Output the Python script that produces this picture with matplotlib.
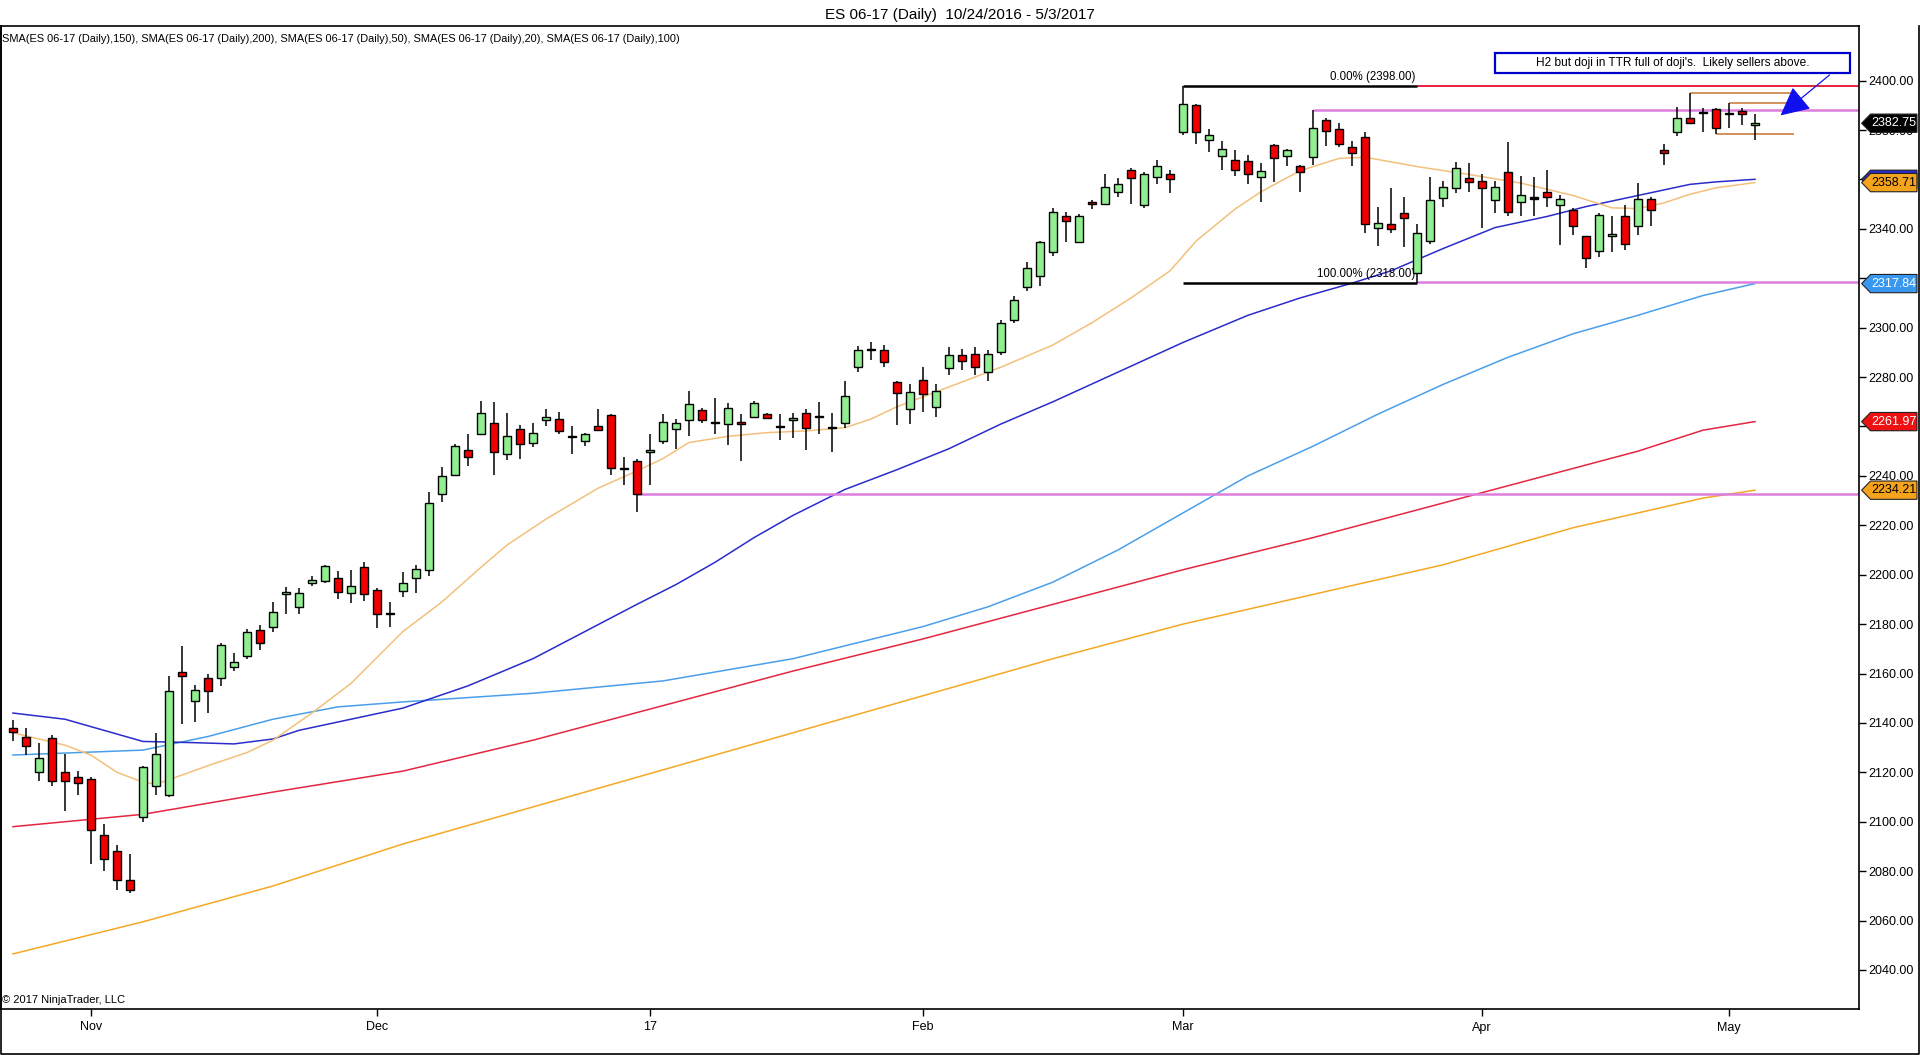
import numpy as np
import matplotlib.pyplot as plt
from matplotlib.patches import Polygon, Rectangle
from matplotlib.lines import Line2D

plt.rcParams['font.family'] = ['Liberation Sans', 'DejaVu Sans']

# daily bars 10/24/2016 .. 5/3/2017 (bar index 0..134)
opens = [2138, 2134.5, 2120, 2134, 2120, 2118, 2117.5, 2094.5, 2088, 2076.5,
         2102, 2114.5, 2111, 2160.5, 2149, 2158, 2158, 2162.5, 2167, 2177.5,
         2179, 2192, 2187, 2196.5, 2197.5, 2198.5, 2192.5, 2203, 2194, 2184,
         2193.5, 2198.5, 2202, 2232.5, 2240.5, 2250.5, 2257, 2261.5, 2249, 2259,
         2253.5, 2262.5, 2263, 2256, 2254, 2260, 2264.5, 2243, 2246, 2249.5,
         2254, 2259, 2262.5, 2266.5, 2261.7, 2261, 2262, 2264, 2265, 2260,
         2262.5, 2265.5, 2264, 2259.5, 2261.5, 2284, 2291, 2291, 2278, 2267,
         2279, 2268, 2283.5, 2289, 2289.5, 2282, 2290, 2303, 2316.5, 2321,
         2330.5, 2345, 2334.5, 2351, 2350, 2355, 2364, 2349.5, 2361, 2362,
         2379, 2390, 2376, 2369.5, 2368, 2367.5, 2361, 2374, 2369.5, 2365.5,
         2369, 2384, 2380.5, 2373, 2377, 2340.5, 2342, 2346.5, 2322, 2335,
         2352.5, 2356.5, 2360.5, 2359.5, 2351.5, 2363, 2351, 2352.5, 2355, 2349.5,
         2347.5, 2337, 2331, 2337, 2345, 2341, 2352, 2372, 2379, 2385,
         2387, 2388.5, 2386.5, 2387.5, 2382]
highs = [2141, 2138, 2132, 2135, 2127.5, 2120.5, 2118, 2099, 2090.5, 2087,
         2122.5, 2136, 2159, 2171, 2155.5, 2160, 2172.5, 2168.5, 2178, 2179.5,
         2189, 2195, 2194.5, 2199.5, 2204, 2201.5, 2202, 2205, 2194.5, 2189,
         2201, 2204, 2233.5, 2243.5, 2253, 2257, 2270.5, 2270, 2265.5, 2260.5,
         2261.5, 2267, 2266, 2260, 2257.5, 2267, 2265, 2247.5, 2247, 2257,
         2265, 2263, 2274.5, 2267.5, 2271.5, 2269.5, 2265, 2270.5, 2265.5, 2265,
         2265.5, 2267, 2270, 2265.5, 2278.5, 2292.5, 2294, 2293, 2278.5, 2277,
         2284, 2277, 2292, 2291.5, 2292, 2291, 2303, 2313, 2326.5, 2335,
         2348.5, 2347, 2346, 2351.5, 2362, 2360.5, 2364.5, 2363, 2368, 2364,
         2398, 2390.5, 2380.5, 2375.5, 2372, 2370, 2366.5, 2374.5, 2372.5, 2366,
         2388, 2385, 2383, 2375.5, 2379, 2349, 2356.5, 2353, 2342, 2361,
         2359.5, 2367, 2366.5, 2362, 2359.5, 2375, 2361.5, 2361, 2364, 2353.5,
         2348.5, 2337, 2346.5, 2345, 2349.5, 2358.5, 2353, 2374.5, 2389.5, 2395,
         2389, 2389, 2391, 2389, 2386.5]
lows = [2132.5, 2127, 2116.5, 2114.5, 2104.5, 2111, 2083, 2080, 2072.5, 2071,
        2100, 2111, 2110, 2139.5, 2140.5, 2144, 2155, 2161, 2166, 2169.5,
        2177, 2184, 2184, 2195.5, 2196.5, 2190, 2188.5, 2189.5, 2178.5, 2179,
        2191, 2192.5, 2199.5, 2229.5, 2240, 2244, 2256.5, 2240.5, 2246.5, 2247,
        2251.5, 2260, 2257, 2249, 2252, 2258, 2240.5, 2236.5, 2225.5, 2236.5,
        2253, 2251, 2256, 2261.5, 2257, 2252.5, 2246, 2263.5, 2263, 2254.5,
        2255.5, 2250.5, 2257, 2249.5, 2259.5, 2282, 2287, 2284, 2260.5, 2261,
        2266, 2264, 2281, 2283, 2281, 2278.5, 2289, 2302, 2315, 2317,
        2329, 2334.5, 2334.5, 2348, 2349.5, 2353, 2350, 2348.5, 2358, 2354.5,
        2378, 2374.5, 2371, 2364, 2361.5, 2358, 2351, 2359, 2365.5, 2355,
        2366, 2373.5, 2373, 2365.5, 2338.5, 2333, 2338.5, 2332.5, 2318, 2334,
        2349, 2354.5, 2355, 2340.5, 2346.5, 2345, 2345, 2345, 2349, 2333.5,
        2337.5, 2324, 2328.5, 2330.5, 2331.5, 2337.5, 2341, 2366, 2377.5, 2382.5,
        2379, 2378.5, 2381, 2382, 2376]
closes = [2136.5, 2130.5, 2126, 2116.5, 2116.5, 2115.5, 2096.5, 2085, 2076.5, 2072.5,
          2122, 2127.5, 2153, 2159, 2153.5, 2153, 2171.5, 2164.5, 2177, 2172.5,
          2185, 2193, 2192.5, 2198, 2203.5, 2193, 2195.5, 2192, 2184, 2184.5,
          2196.5, 2202.5, 2229, 2240, 2252, 2247.5, 2265.5, 2249.5, 2256, 2253,
          2257.5, 2264, 2258, 2256, 2257, 2258.5, 2243, 2243, 2232.5, 2250.5,
          2262, 2261.5, 2269, 2262.5, 2261.7, 2267.5, 2261, 2269.5, 2263.5, 2260,
          2263.5, 2259.5, 2264, 2259.5, 2272.5, 2291, 2291.5, 2286, 2273.5, 2274,
          2273, 2274.5, 2289, 2286.5, 2284, 2289.5, 2302, 2311, 2324, 2334.5,
          2347, 2343, 2345, 2350, 2357, 2358, 2360.5, 2362, 2365.5, 2360,
          2390.5, 2379, 2378, 2372.5, 2364, 2362, 2363.5, 2368.5, 2372, 2363,
          2381, 2379.5, 2374.5, 2370.5, 2342, 2342.5, 2340, 2344.5, 2338.5, 2351.5,
          2357, 2364.5, 2359, 2356.5, 2357, 2347, 2353.5, 2352.5, 2353, 2352,
          2341, 2328, 2345.5, 2338, 2334, 2352, 2347.5, 2370.5, 2385, 2383,
          2387, 2381, 2387, 2386.5, 2382.75]

# moving averages (bar index, value)
sma20_x = [0, 4, 6, 8, 10, 11, 12, 15, 18, 20, 23, 26, 28, 30, 33, 36, 38, 41, 45, 48, 50,
           52, 55, 58, 61, 64, 66, 68, 72, 76, 80, 83, 86, 89, 91, 94, 96, 99, 102, 104,
           108, 112, 116, 120, 123, 125, 127, 129, 131, 134]
sma20_y = [2136, 2131, 2127, 2120, 2116, 2115.3, 2117, 2122.7, 2128, 2133, 2144, 2156,
           2166.5, 2177, 2189, 2203, 2212, 2222.5, 2235, 2242, 2247, 2253.5, 2256, 2257.5,
           2258.2, 2259.5, 2263, 2268, 2276, 2284, 2293, 2302, 2312, 2323, 2335, 2348,
           2355, 2363.5, 2368.5, 2369, 2365.2, 2362, 2358.5, 2353.5, 2348.5, 2348.2,
           2350.5, 2354, 2356.6, 2358.71]
sma50_x = [0, 4, 7, 10, 14, 17, 20, 22, 26, 30, 35, 40, 44, 48, 51, 54, 57, 60, 64, 68,
           72, 76, 80, 85, 90, 95, 99, 103, 106, 110, 114, 118, 121, 125, 129, 131, 134]
sma50_y = [2144, 2141.5, 2137, 2132.5, 2132, 2131.5, 2133.5, 2137, 2141.5, 2146, 2155,
           2166, 2177, 2188, 2196, 2205, 2215, 2224, 2234.5, 2242.5, 2251, 2261, 2270,
           2282, 2294, 2305, 2312, 2318, 2323, 2332, 2340.5, 2345, 2349, 2353.5, 2358,
           2359, 2360.05]
sma100_x = [0, 10, 15, 20, 25, 30, 40, 50, 60, 70, 75, 80, 85, 90, 95, 100, 105, 110,
            115, 120, 125, 130, 134]
sma100_y = [2127, 2129, 2134.5, 2141.5, 2146.5, 2148.5, 2152, 2157, 2166, 2179, 2187,
            2197, 2210, 2225, 2240, 2252, 2265, 2277, 2288, 2297.5, 2305, 2313, 2317.84]
sma150_x = [0, 10, 20, 30, 40, 50, 60, 70, 80, 90, 100, 110, 115, 120, 125, 130, 134]
sma150_y = [2098, 2103, 2112, 2120.5, 2133, 2147, 2161, 2174, 2188, 2202, 2215, 2229,
            2236, 2243, 2250, 2258.5, 2261.97]
sma200_x = [0, 10, 20, 30, 40, 50, 60, 70, 80, 90, 100, 110, 115, 120, 125, 130, 134]
sma200_y = [2046.5, 2059.5, 2074, 2091, 2106, 2121, 2136, 2151, 2166, 2180, 2192, 2204,
            2211.5, 2219, 2225, 2231, 2234.21]

month_pos = [6, 28, 49, 70, 90, 113, 132]
month_lab = ['Nov', 'Dec', '17', 'Feb', 'Mar', 'Apr', 'May']

fig = plt.figure(figsize=(19.2, 10.55), dpi=100)
ax = fig.add_axes([1 / 1920, 46 / 1055, 1858 / 1920, 983 / 1055])

o = np.array(opens); h = np.array(highs); l = np.array(lows); c = np.array(closes)
idx = np.arange(len(o))

# moving averages
ax.plot(sma200_x, sma200_y, color='#f4a823', lw=1.1, zorder=2)
ax.plot(sma150_x, sma150_y, color='#e42640', lw=1.1, zorder=2)
ax.plot(sma100_x, sma100_y, color='#4a9fea', lw=1.1, zorder=2)
ax.plot(sma50_x, sma50_y, color='#2b2bcc', lw=1.1, zorder=2)
ax.plot(sma20_x, sma20_y, color='#f3c07c', lw=1.1, zorder=2)

# drawn lines
ax.hlines(2232.5, 48, 142, color='#dd7ddd', lw=1.8, zorder=2.5)
ax.hlines(2388, 100, 142, color='#dd7ddd', lw=1.8, zorder=2.5)
ax.hlines(2318.3, 108, 142, color='#dd7ddd', lw=1.8, zorder=2.5)
ax.hlines(2398, 108, 142, color='#e8203a', lw=1.4, zorder=2.5)
ax.hlines([2398, 2318], 90, 108, color='black', lw=1.8, zorder=2.6)
ax.text(107.9, 2399.2, '0.00% (2398.00)', ha='right', va='bottom', fontsize=8.3)
ax.text(107.9, 2319.2, '100.00% (2318.00)', ha='right', va='bottom', fontsize=8.3)
ax.hlines(2394.8, 129, 137, color='#c87430', lw=1.1, zorder=2.5)
ax.hlines(2390.8, 132, 137, color='#c87430', lw=1.1, zorder=2.5)
ax.hlines(2378.3, 131, 137, color='#c87430', lw=1.1, zorder=2.5)

# candles
ax.vlines(idx, l, h, color='black', lw=1.1, zorder=3)
doji = o == c
body_h = np.where(doji, 0.5, np.abs(c - o))
body_b = np.where(doji, o - 0.25, np.minimum(o, c))
cols = np.where(doji, 'black', np.where(c > o, '#90ee90', '#ee0000'))
ax.bar(idx, body_h, bottom=body_b, width=0.62, color=cols, edgecolor='black',
       linewidth=1.0, zorder=4)

# comment box and arrow
ax.add_patch(Rectangle((114.0, 2403.0), 27.3, 8.1, facecolor='white', edgecolor='#0000cc',
                       lw=1.6, zorder=6))
ax.text(127.65, 2407.05, "H2 but doji in TTR full of doji's.  Likely sellers above.",
        ha='center', va='center', fontsize=8.6, zorder=7)
ax.annotate('', xy=(135.8, 2385.2), xytext=(139.9, 2403),
            arrowprops=dict(arrowstyle='-|>,head_length=0.9,head_width=0.45',
                            mutation_scale=20, color='#1010ee', lw=0.9), zorder=6)

ax.set_xlim(-0.92, 142.0)
ax.set_ylim(2024.2, 2422.1)
ax.set_xticks(month_pos)
ax.set_xticklabels(month_lab)
ax.set_yticks(np.arange(2040, 2401, 20))
ax.yaxis.set_major_formatter(plt.FormatStrFormatter('%.2f'))
ax.yaxis.tick_right()
ax.tick_params(axis='both', direction='out', length=5, width=1, labelsize=9, pad=2)
ax.tick_params(axis='x', pad=4)
for s in ax.spines.values():
    s.set_linewidth(1.2)

# price tags on the right axis
ytr = ax.get_yaxis_transform()
def tag(y, txt, fc, tc, z):
    hh = 3.7
    pts = [(1.0014, y), (1.0062, y + hh), (1.0312, y + hh), (1.0312, y - hh), (1.0062, y - hh)]
    ax.add_patch(Polygon(pts, closed=True, transform=ytr, facecolor=fc, edgecolor='#222222',
                         lw=0.8, clip_on=False, zorder=z))
    ax.text(1.0186, y, txt, transform=ytr, ha='center', va='center', fontsize=9,
            color=tc, clip_on=False, zorder=z + 0.1)

tag(2360.05, '2360.05', '#2b2bcc', 'white', 10)
tag(2358.71, '2358.71', '#f5a31c', 'black', 11)
tag(2317.84, '2317.84', '#3898f0', 'white', 10)
tag(2261.97, '2261.97', '#ee1111', 'white', 10)
tag(2234.21, '2234.21', '#f5a31c', 'black', 10)
tag(2382.75, '2382.75', 'black', 'white', 12)

ax.text(0.0008, 0.987, 'SMA(ES 06-17 (Daily),150), SMA(ES 06-17 (Daily),200), SMA(ES 06-17 (Daily),50), '
        'SMA(ES 06-17 (Daily),20), SMA(ES 06-17 (Daily),100)', transform=ax.transAxes,
        ha='left', va='center', fontsize=7.9)
ax.text(0.0008, 0.004, '\u00a9 2017 NinjaTrader, LLC', transform=ax.transAxes,
        ha='left', va='bottom', fontsize=8)

fig.text(0.5, 1 - 15 / 1055, 'ES 06-17 (Daily)  10/24/2016 - 5/3/2017', ha='center',
         va='center', fontsize=11)

# outer frame
fig.add_artist(Line2D([0.0003, 0.0003, 0.9995, 0.9995], [1 - 26 / 1055, 0.0006, 0.0006, 1 - 26 / 1055],
                      transform=fig.transFigure, color='black', lw=1.2))

fig.savefig('out.png', dpi=100)
